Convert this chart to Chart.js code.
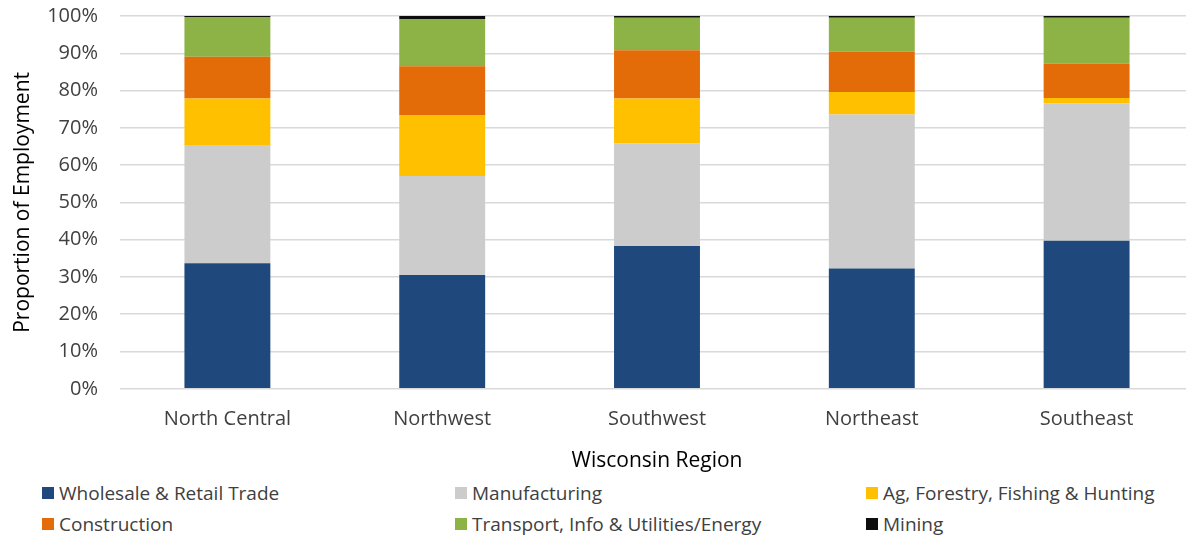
<!DOCTYPE html>
<html>
<head>
<meta charset="utf-8">
<script src="https://cdn.jsdelivr.net/npm/chart.js@4.4.1/dist/chart.umd.min.js"></script>
<style>
  html, body { margin: 0; padding: 0; background: #fff; overflow: hidden; }
  #wrap { position: absolute; left: 0; top: 0; width: 1194px; height: 478px; }
  #legend { position: absolute; left: 0; top: 476px; width: 1186px; font-family: "Open Sans", sans-serif; font-size: 19px; color: #404040; }
  .item { position: absolute; display: flex; align-items: center; white-space: nowrap; }
  .box { width: 12px; height: 12px; margin-right: 5px; }
</style>
</head>
<body>
<div id="wrap"><canvas id="chart" width="1194" height="478"></canvas></div>
<div id="legend"></div>
<script>
// Data
const regions = ['North Central', 'Northwest', 'Southwest', 'Northeast', 'Southeast'];
const sectors = ['Wholesale & Retail Trade', 'Manufacturing', 'Ag, Forestry, Fishing & Hunting',
                 'Construction', 'Transport, Info & Utilities/Energy', 'Mining'];
const wholesale    = [33.7, 30.5, 38.3, 32.3, 39.7];
const manufacturing = [31.7, 26.6, 27.5, 41.3, 36.9];
const agriculture  = [12.5, 16.2, 12.1, 6.0, 1.4];
const construction = [11.2, 13.2, 12.9, 10.9, 9.2];
const transport    = [10.6, 12.7, 8.7, 9.0, 12.3];
const mining       = [0.3, 0.8, 0.5, 0.5, 0.5];
const yTicks = [0, 10, 20, 30, 40, 50, 60, 70, 80, 90, 100];

// Colors
const COLORS = ['#1F497D', '#CCCCCC', '#FFC000', '#E36C09', '#8DB246', '#0D0D0D'];
const seriesValues = [wholesale, manufacturing, agriculture, construction, transport, mining];

const FONT = '"Open Sans", sans-serif';

const chart = new Chart(document.getElementById('chart'), {
    type: 'bar',
    data: {
        labels: regions,
        datasets: sectors.map((name, i) => ({
            label: name,
            data: seriesValues[i],
            backgroundColor: COLORS[i],
            borderWidth: 0,
            categoryPercentage: 1,
            barPercentage: 0.4
        }))
    },
    options: {
        responsive: false,
        animation: false,
        layout: { padding: { top: 16, right: 0, left: 0, bottom: 0 } },
        plugins: {
            legend: { display: false },
            tooltip: { enabled: false }
        },
        scales: {
            x: {
                stacked: true,
                grid: { display: false },
                border: { display: false },
                ticks: { color: '#404040', font: { family: FONT, size: 20 }, padding: 10 },
                title: { display: true, text: 'Wisconsin Region', color: '#000', font: { family: FONT, size: 21 }, padding: { top: 8 } }
            },
            y: {
                stacked: true,
                min: 0,
                max: 100,
                afterBuildTicks: axis => { axis.ticks = yTicks.map(v => ({ value: v })); },
                afterFit: axis => { axis.width = 120; },
                grid: { color: '#D9D9D9', lineWidth: 1.5, drawTicks: true, tickLength: 20, tickColor: '#fff' },
                border: { display: false },
                ticks: { color: '#404040', font: { family: FONT, size: 20 }, padding: 2, callback: v => v + '%' },
                title: { display: true, text: 'Proportion of Employment', color: '#000', font: { family: FONT, size: 21 }, padding: { top: 10, bottom: 0 } }
            }
        }
    }
});

// Legend in three columns
const legendDiv = document.getElementById('legend');
const colX = [42, 455, 866];
const rowY = [4, 35];
chart.data.datasets.forEach((ds, i) => {
    const item = document.createElement('div');
    item.className = 'item';
    item.style.left = colX[i % 3] + 'px';
    item.style.top = rowY[Math.floor(i / 3)] + 'px';
    item.innerHTML = '<span class="box" style="background:' + ds.backgroundColor + '"></span>' + ds.label;
    legendDiv.appendChild(item);
});
</script>
</body>
</html>
